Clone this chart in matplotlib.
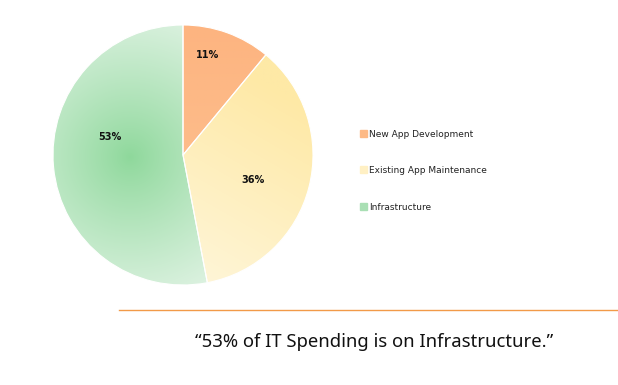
import numpy as np
import matplotlib.pyplot as plt
from matplotlib.colors import to_rgb

categories = ['New App Development', 'Existing App Maintenance', 'Infrastructure']
shares = [11, 36, 53]
base_colors = ['#FDB985', '#FFF0C4', '#B2E3BB']
quote = '\u201c53% of IT Spending is on Infrastructure.\u201d'

W, H = 618, 385
fig = plt.figure(figsize=(W / 100, H / 100), dpi=100)
ax = fig.add_axes([0, 0, 1, 1])

cx, cy, r = 183, H - 155, 130
wedges, _, autotexts = ax.pie(shares, colors=base_colors, startangle=90, counterclock=False,
                              center=(cx, cy), radius=r, autopct=lambda p: f'{round(p)}%',
                              frame=True, wedgeprops=dict(edgecolor='white', linewidth=0.8),
                              textprops=dict(fontsize=7, fontweight='bold', color='#111111'))
ax.set_xlim(0, W)
ax.set_ylim(0, H)
ax.set_aspect('equal')
ax.axis('off')

# label positions (pixel coords, y down)
label_px = [(208, 55), (253, 180), (110, 137)]
for t, (px, py) in zip(autotexts, label_px):
    t.set_position((px, H - py))
    t.set_zorder(5)


def lerp(c0, c1, f):
    c0, c1 = np.array(to_rgb(c0)), np.array(to_rgb(c1))
    f = np.clip(f, 0, 1)[..., None]
    return c0 + (c1 - c0) * f


ext = [cx - r - 2, cx + r + 2, cy - r - 2, cy + r + 2]
xs = np.linspace(ext[0], ext[1], 300)
ys = np.linspace(ext[3], ext[2], 300)
X, Y = np.meshgrid(xs, ys)

# orange: almost flat
img_o = lerp('#FDBC8A', '#FDB480', (Y - (cy)) / r)
# yellow: light at bottom-left, stronger at top-right
d = ((X - cx) * 0.5 + (Y - cy) * 0.87) / r
img_y = lerp('#FFF7DE', '#FEE9A6', (d + 1) / 1.8)
# green: radial glow
gx, gy = 130, H - 157
dist = np.hypot(X - gx, Y - gy) / 150
img_g = lerp('#8ED89B', '#DDF2E1', dist ** 0.9)

for w, img in zip(wedges, [img_o, img_y, img_g]):
    im = ax.imshow(img, extent=ext, origin='upper', zorder=2, interpolation='bilinear')
    im.set_clip_path(w)
    w.set_zorder(3)
    w.set_facecolor('none')

ax.set_xlim(0, W)
ax.set_ylim(0, H)

# legend
handles = [plt.Rectangle((0, 0), 1, 1, color=c) for c in ['#FDB985', '#FFF0C4', '#A9DFB4']]
leg = ax.legend(handles, categories, loc='upper left', bbox_to_anchor=(355 / W, 1 - 125 / H),
                frameon=False, fontsize=6.5, handlelength=0.8, handleheight=0.8,
                handletextpad=0.3, labelspacing=3.05, borderpad=0)
for t in leg.get_texts():
    t.set_color('#222222')

ax.plot([119, W], [H - 309.5, H - 309.5], color='#F29A48', linewidth=1)
ax.text(374, H - 342, quote, ha='center', va='center', fontsize=13.3,
        family='Noto Sans', color='#111111')

fig.savefig('out.png', dpi=100)
